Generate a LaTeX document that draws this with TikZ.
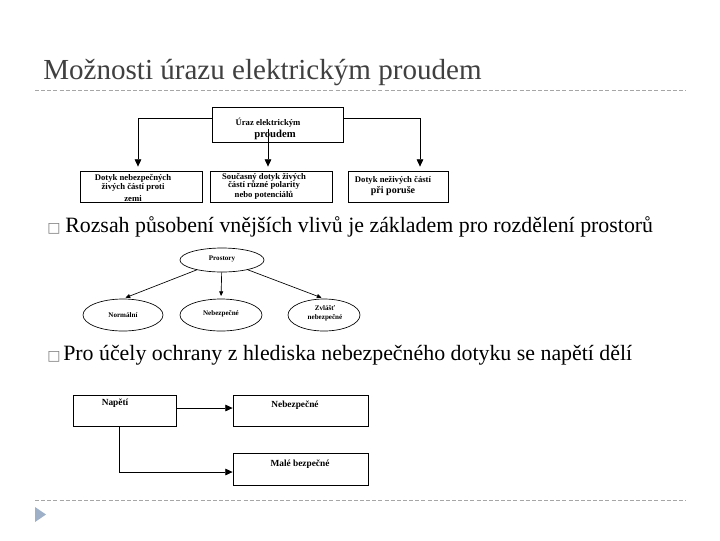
\documentclass[tikz,border=0pt]{standalone}
\usepackage{fontspec}
\setmainfont{Liberation Serif}
\newfontfamily\symfont{DejaVu Sans}
\usetikzlibrary{arrows.meta,shapes.geometric,calc}
\definecolor{titlegray}{HTML}{404040}
\definecolor{rulegray}{HTML}{A6A6A6}
\definecolor{navblue}{HTML}{9DB0C8}
\tikzset{
  rbox/.style args={#1x#2}{draw, line width=0.6pt, minimum width=#1*0.75pt, minimum height=#2*0.75pt, inner sep=0pt, align=center},
  oval/.style args={#1x#2}{ellipse, draw, line width=0.5pt, minimum width=#1*0.75pt, minimum height=#2*0.75pt, inner sep=0pt, align=center},
  arr/.style={-{Triangle[length=5.5pt,width=5pt]}, line width=0.6pt},
  arrsmall/.style={-{Triangle[length=3.5pt,width=3pt]}, line width=0.5pt},
  dtext/.style={font=\fontsize{6.5}{7.5}\selectfont\bfseries, align=center, inner sep=0pt},
  etext/.style={font=\fontsize{5.3}{6.5}\selectfont\bfseries, align=center, inner sep=0pt},
  ftext/.style={font=\fontsize{7}{9}\selectfont\bfseries, inner sep=0pt},
  sepline/.style={rulegray, line width=0.7pt, dash pattern=on 3pt off 1.6pt},
  bullettext/.style={font=\fontsize{16.4}{19}\selectfont, anchor=base west, inner sep=0pt},
  bulletmark/.style={font=\symfont\fontsize{10.5}{11}\selectfont, text=gray, anchor=base west, inner sep=0pt},
}
\begin{document}
\begin{tikzpicture}[x=0.75pt,y=-0.75pt]
\useasboundingbox (0,0) rectangle (720,540);
% title
\node[anchor=base west, inner sep=0pt, text=titlegray, font=\fontsize{21.8}{25}\selectfont] (title) at (43,79) {Možnosti úrazu elektrickým proudem};
\coordinate (tl1) at (35,90.5);
\coordinate (tl2) at (686,90.5);
\draw[sepline] (tl1) -- (tl2);

% figure 1
\node[rbox=131x35] (uraz) at (277.5,124.5) {};
\node[dtext] (urazt) at (268,123) {Úraz elektrickým};
\node[dtext, font=\fontsize{8}{9}\selectfont\bfseries] (urazt2) at (275,134.5) {proudem};
\node[rbox=122x31] (zivych) at (141,186.5) {};
\node[dtext, anchor=north] (zivycht) at (133,174) {Dotyk nebezpečných\\[-1pt]živých částí proti\\[1.5pt]zemi};
\node[rbox=122x31] (soucas) at (271,186.5) {};
\node[dtext, anchor=north] (soucast) at (264,173.5) {Současný dotyk živých\\[-1.5pt]částí různé polarity\\nebo potenciálů};
\node[rbox=100x31] (nezivych) at (398,186.5) {};
\node[dtext, anchor=north] (nezivycht) at (393,176) {Dotyk neživých částí\\[1pt]{\fontsize{7.5}{8}\selectfont při poruše}};
\coordinate (cL) at (138,118);
\coordinate (cR) at (420,118);
\coordinate (cM) at (268,129);
\draw[arr, shorten >=3pt] (uraz.west |- cL) -- (cL) -- (cL |- zivych.north);
\draw[arr, shorten >=3pt] (uraz.east |- cR) -- (cR) -- (cR |- nezivych.north);
\draw[arr, shorten >=3pt] (cM) -- (cM |- soucas.north);

% bullet 1
\node[bulletmark] (b1) at (47,232) {□};
\node[bullettext] (t1) at (65,232) {Rozsah působení vnějších vlivů je základem pro rozdělení prostorů};

% figure 2
\node[oval=84x24] (prostory) at (222,260) {};
\node[etext] (prostoryt) at (222,259) {Prostory};
\node[oval=80x32] (normalni) at (123,315) {};
\node[etext] (normalnit) at (123,315) {Normální};
\node[oval=82x32] (nebezp) at (221,315) {};
\node[etext] (nebezpt) at (221,314) {Nebezpečné};
\node[oval=72x32] (zvlast) at (324,315) {};
\node[etext] (zvlastt) at (325,313) {Zvlášť\\nebezpečné};
\draw[arrsmall, shorten >=2pt] (prostory) -- (normalni.north);
\draw[arrsmall, shorten >=2pt] (prostory) -- (nebezp.north);
\draw[arrsmall, shorten >=2pt] (prostory) -- (zvlast.north);

% bullet 2
\node[bulletmark] (b2) at (47,360) {□};
\node[bullettext] (t2) at (63,360) {Pro účely ochrany z hlediska nebezpečného dotyku se napětí dělí};

% figure 3
\node[rbox=103x31] (napeti) at (124.5,410.5) {};
\node[ftext] (napetit) at (115,403) {Napětí};
\node[rbox=135x31] (nebez3) at (300.5,410.5) {};
\node[ftext] (nebez3t) at (295,405) {Nebezpečné};
\node[rbox=135x32] (male) at (300.5,469) {};
\node[ftext] (malet) at (300,464) {Malé bezpečné};
\coordinate (n1) at (176,408);
\coordinate (n2) at (119,472);
\draw[arr] (n1) -- (n1 -| nebez3.west);
\draw[arr] (n2 |- napeti.south) -- (n2) -- (n2 -| male.west);

% footer
\coordinate (fl1) at (35,500);
\coordinate (fl2) at (686,500);
\draw[sepline] (fl1) -- (fl2);
\fill[navblue] (35,507) -- (46,514.5) -- (35,522) -- cycle;
\end{tikzpicture}
\end{document}
